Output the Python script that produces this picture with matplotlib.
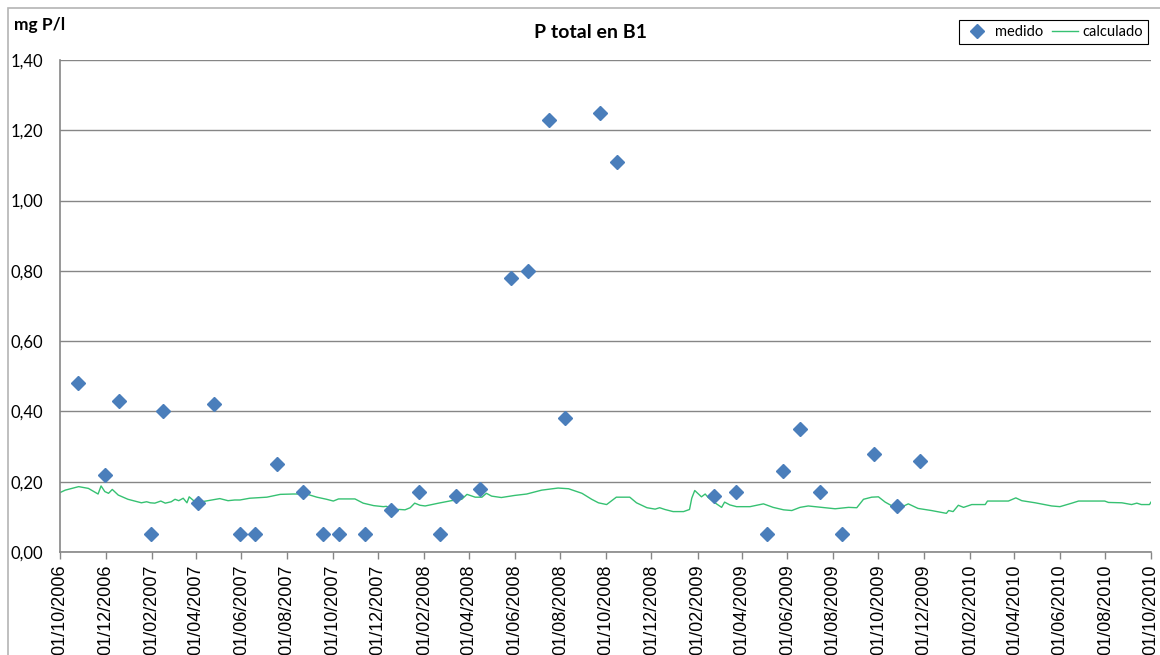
import pandas as pd
import matplotlib
matplotlib.use("Agg")
import matplotlib.pyplot as plt
import matplotlib.dates as mdates
from matplotlib.patches import Rectangle
from matplotlib.ticker import FuncFormatter

# ==========================
# Datos
# ==========================
start_date = "2006-10-01"
end_date = "2010-10-01"

# P total medido (mg P/l)
medido_fechas = [
    "2006-10-25", "2006-11-30", "2006-12-19", "2007-01-31", "2007-02-16",
    "2007-04-04", "2007-04-25", "2007-05-30", "2007-06-19", "2007-07-19",
    "2007-08-22", "2007-09-18", "2007-10-10", "2007-11-13", "2007-12-18",
    "2008-01-25", "2008-02-22", "2008-03-14", "2008-04-15", "2008-05-27",
    "2008-06-19", "2008-07-17", "2008-08-07", "2008-09-23", "2008-10-16",
    "2009-02-23", "2009-03-24", "2009-05-05", "2009-05-26", "2009-06-18",
    "2009-07-15", "2009-08-13", "2009-09-25", "2009-10-26", "2009-11-26",
]
medido_valores = [
    0.48, 0.22, 0.43, 0.05, 0.40,
    0.14, 0.42, 0.05, 0.05, 0.25,
    0.17, 0.05, 0.05, 0.05, 0.12,
    0.17, 0.05, 0.16, 0.18, 0.78,
    0.80, 1.23, 0.38, 1.25, 1.11,
    0.16, 0.17, 0.05, 0.23, 0.35,
    0.17, 0.05, 0.28, 0.13, 0.26,
]

# P total calculado: dias desde el inicio y valor (mg P/l)
calculado_dias = [
    0, 7, 25, 38, 51, 55, 60, 65, 70, 78,
    91, 109, 116, 121, 127, 135, 141, 149, 154, 159,
    165, 170, 173, 179, 190, 203, 214, 225, 234, 241,
    254, 277, 295, 312, 330, 344, 357, 366, 373, 395,
    406, 420, 433, 437, 446, 455, 462, 469, 475, 482,
    489, 507, 524, 538, 545, 556, 565, 571, 578, 591,
    609, 625, 645, 667, 681, 699, 712, 721, 732, 745,
    763, 772, 786, 797, 803, 810, 821, 835, 843, 846,
    850, 855, 859, 864, 868, 875, 886, 890, 897, 906,
    924, 942, 955, 969, 980, 991, 1002, 1020, 1038, 1056,
    1067, 1076, 1087, 1096, 1105, 1116, 1125, 1136, 1149, 1167,
    1180, 1187, 1190, 1196, 1203, 1210, 1221, 1239, 1242, 1270,
    1280, 1288, 1306, 1328, 1339, 1355, 1364, 1399, 1404, 1422,
    1435, 1442, 1448, 1459, 1461,
]
calculado_valores = [
    0.169, 0.176, 0.186, 0.181, 0.165, 0.188, 0.172, 0.167, 0.178, 0.162,
    0.150, 0.140, 0.143, 0.140, 0.139, 0.145, 0.139, 0.143, 0.150, 0.146,
    0.153, 0.140, 0.157, 0.146, 0.143, 0.148, 0.152, 0.146, 0.148, 0.148,
    0.153, 0.156, 0.164, 0.165, 0.165, 0.156, 0.150, 0.145, 0.151, 0.151,
    0.139, 0.132, 0.129, 0.130, 0.121, 0.121, 0.120, 0.126, 0.139, 0.133,
    0.131, 0.139, 0.146, 0.150, 0.164, 0.156, 0.156, 0.167, 0.159, 0.155,
    0.161, 0.165, 0.176, 0.182, 0.180, 0.167, 0.150, 0.140, 0.135, 0.156,
    0.156, 0.140, 0.126, 0.122, 0.126, 0.121, 0.115, 0.115, 0.121, 0.153,
    0.175, 0.165, 0.157, 0.165, 0.155, 0.143, 0.127, 0.142, 0.134, 0.129,
    0.129, 0.137, 0.127, 0.120, 0.118, 0.127, 0.131, 0.127, 0.123, 0.127,
    0.126, 0.150, 0.156, 0.157, 0.142, 0.129, 0.126, 0.137, 0.124, 0.118,
    0.113, 0.110, 0.118, 0.115, 0.133, 0.127, 0.135, 0.135, 0.145, 0.145,
    0.154, 0.146, 0.140, 0.131, 0.129, 0.139, 0.145, 0.145, 0.141, 0.140,
    0.135, 0.139, 0.135, 0.135, 0.142,
]

y_ticks = [0.0, 0.2, 0.4, 0.6, 0.8, 1.0, 1.2, 1.4]

FONT = ["Lato", "DejaVu Sans"]
AXIS_GRAY = "#868686"


# ==========================
# Gráfico
# ==========================
def p_total_chart():
    t0 = pd.Timestamp(start_date)
    x_medido = pd.to_datetime(medido_fechas)
    x_calc = t0 + pd.to_timedelta(calculado_dias, unit="D")

    fig = plt.figure(figsize=(11.6, 6.55), dpi=100)
    ax = fig.add_axes([60 / 1160, 1 - 552 / 655, 1091 / 1160, 492 / 655])

    # marco del área del gráfico
    fig.patches.append(Rectangle((8 / 1160, -0.1), 1.2, 1.1 - 8 / 655,
                                 transform=fig.transFigure, fill=False,
                                 edgecolor="#b4b4b4", linewidth=1.2))

    ax.plot(x_calc, calculado_valores, color="#36c172", linewidth=1.0,
            label="calculado", zorder=2)
    ax.plot(x_medido, medido_valores, linestyle="none", marker="D",
            markersize=7, color="#4a7ebb", label="medido", zorder=3)

    ax.set_xlim(t0, pd.Timestamp(end_date))
    ax.set_ylim(0, 1.4)
    ax.set_yticks(y_ticks)
    ax.yaxis.set_major_formatter(
        FuncFormatter(lambda v, _: f"{v:.2f}".replace(".", ",")))

    ax.xaxis.set_major_locator(mdates.MonthLocator(bymonth=[2, 4, 6, 8, 10, 12]))
    ax.xaxis.set_major_formatter(mdates.DateFormatter("%d/%m/%Y"))

    ax.grid(axis="y", color=AXIS_GRAY, linewidth=1)
    ax.set_axisbelow(True)
    for side in ["top", "right"]:
        ax.spines[side].set_visible(False)
    for side in ["left", "bottom"]:
        ax.spines[side].set_color(AXIS_GRAY)
        ax.spines[side].set_linewidth(1.2)

    ax.tick_params(axis="y", length=0, pad=12, labelsize=12)
    ax.tick_params(axis="x", length=5, width=1, color=AXIS_GRAY,
                   labelsize=13, rotation=90, pad=4)
    for lab in ax.get_yticklabels():
        lab.set_fontfamily(FONT)
    for lab in ax.get_xticklabels():
        lab.set_fontfamily(["Liberation Sans", "DejaVu Sans"])

    fig.text(590 / 1160, 1 - 33 / 655, "P total en B1", ha="center",
             va="center", fontsize=14, fontweight="bold", family=FONT)
    fig.text(14 / 1160, 1 - 25 / 655, "mg P/l", ha="left", va="center",
             fontsize=12.5, fontweight="bold", family=FONT)

    handles, labels = ax.get_legend_handles_labels()
    leg = fig.legend(handles[::-1], labels[::-1], ncol=2,
                     loc="upper right",
                     bbox_to_anchor=(1148 / 1160, 1 - 20 / 655),
                     bbox_transform=fig.transFigure, borderaxespad=0,
                     fancybox=False, edgecolor="black", framealpha=1,
                     prop={"family": FONT, "size": 10.5},
                     handlelength=1.8, handletextpad=0.3,
                     columnspacing=0.6, borderpad=0.35)
    leg.get_frame().set_linewidth(0.8)

    fig.savefig("out.png", dpi=100)


def main():
    p_total_chart()


if __name__ == "__main__":
    main()
